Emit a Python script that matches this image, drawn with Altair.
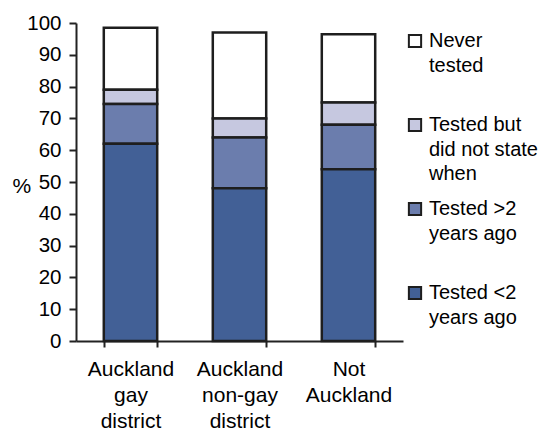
import altair as alt
import pandas as pd

groups = ["Auckland gay district", "Auckland non-gay district", "Not Auckland"]
group_lines = ["Auckland|gay|district", "Auckland|non-gay|district", "Not|Auckland"]
statuses = ["Never tested", "Tested but did not state when", "Tested >2 years ago", "Tested <2 years ago"]
status_lines = ["Never|tested", "Tested but|did not state|when", "Tested >2|years ago", "Tested <2|years ago"]
stack_rank = [3, 2, 1, 0]
colors = ["#ffffff", "#c6c8e0", "#6b7dad", "#426096"]

never_tested = [19.5, 27.0, 21.5]
tested_no_when = [4.5, 6.0, 7.0]
tested_over2 = [12.5, 16.0, 14.0]
tested_under2 = [62.0, 48.0, 54.0]
series = [never_tested, tested_no_when, tested_over2, tested_under2]

rows = []
for s, lines, rank, vals in zip(statuses, status_lines, stack_rank, series):
    for g, gl, v in zip(groups, group_lines, vals):
        rows.append({"group": gl, "status": lines, "rank": rank, "pct": v})
df = pd.DataFrame(rows)

FONT = "Liberation Sans"

chart = alt.Chart(df).mark_bar(stroke="#1e1e1e", strokeWidth=2.5).encode(
    x=alt.X("group:N", sort=group_lines, title=None,
            scale=alt.Scale(paddingInner=0.51, paddingOuter=0.255),
            axis=alt.Axis(labelExpr="split(datum.label, '|')", labelAngle=0,
                          labelFontSize=21, labelFont=FONT, labelColor="#000",
                          labelLineHeight=26, labelPadding=11, labelBaseline="top",
                          tickBand="extent", tickSize=6, tickWidth=2, tickColor="#222",
                          domainWidth=2, domainColor="#222")),
    y=alt.Y("pct:Q", stack="zero", title="%",
            scale=alt.Scale(domain=[0, 100], nice=False),
            axis=alt.Axis(values=list(range(0, 101, 10)), grid=False,
                          labelFontSize=20.5, labelFont=FONT, labelColor="#000",
                          labelPadding=8, tickSize=7, tickWidth=2, tickColor="#222",
                          domainWidth=2, domainColor="#222",
                          titleAngle=0, titleFontSize=21, titleFont=FONT,
                          titleFontWeight="normal", titleColor="#000",
                          titleAlign="left", titleBaseline="middle",
                          titleX=-64, titleY=163)),
    color=alt.Color("status:N", sort=status_lines,
                    scale=alt.Scale(domain=status_lines, range=colors),
                    legend=alt.Legend(title=None, labelExpr="split(datum.label, '|')",
                                      labelFontSize=20, labelFont=FONT,
                                      labelColor="#000", labelLimit=200,
                                      symbolType="square", symbolSize=150,
                                      symbolStrokeColor="#1e1e1e", symbolStrokeWidth=2,
                                      symbolOpacity=1, labelOffset=4,
                                      gridAlign="all", rowPadding=14,
                                      orient="none", legendX=329, legendY=8,
                                      padding=0)),
    order=alt.Order("rank:Q", sort="ascending"),
).properties(
    width=327, height=318,
    autosize=alt.AutoSizeParams(type="none"),
    padding={"left": 68, "top": 15, "right": 138, "bottom": 94},
).configure(style={"guide-label": {"lineHeight": 24.5}}).configure_view(stroke=None)

chart.save("out.html", embed_options={"renderer": "svg", "actions": False})
